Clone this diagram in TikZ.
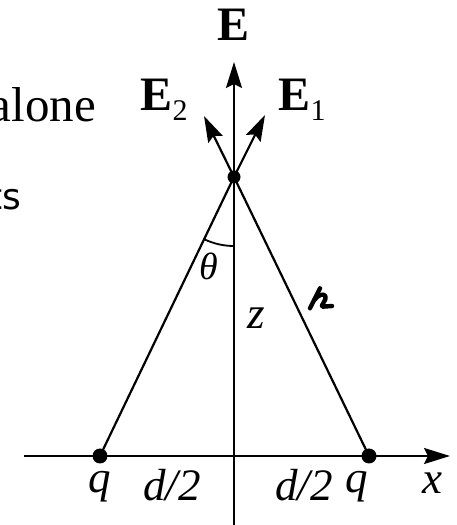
\documentclass[tikz,border=0pt]{standalone}
\usepackage{fontspec}
\setmainfont{Liberation Serif}
\newfontfamily\sansf{DejaVu Sans}
\usetikzlibrary{arrows.meta}
\begin{document}
\begin{tikzpicture}[x=1pt,y=1pt,line width=2.2pt,
  tip/.style={-{Stealth[length=26pt,width=16pt,inset=4pt]}},
  lab/.style={font=\fontsize{45}{45}\selectfont\itshape,inner sep=0pt},
  vlab/.style={font=\fontsize{48}{48}\selectfont\bfseries,inner sep=0pt},
  dot/.style={circle,fill,inner sep=0pt,minimum size=13pt},
  scr/.style={line width=4.4pt,line cap=round,line join=round}]
\useasboundingbox (0,0) rectangle (457,525);
\clip (0,0) rectangle (457,525);
% geometry
\coordinate (Ztop) at (234,463);
\coordinate (Zbot) at (234,-2);
\coordinate (Xl) at (24,69);
\coordinate (Xr) at (450,69);
\node[dot] (P) at (234,348) {};
\node[dot,minimum size=15pt] (Q1) at (100,69) {};
\node[dot,minimum size=15pt] (Q2) at (369,69) {};
\coordinate (T1) at (265,410);
\coordinate (T2) at (204,409);
% axes
\draw[tip] (Zbot) -- (Ztop);
\draw[tip] (Xl) -- (Xr);
% lines to charges
\draw (Q1.center) -- (P.center) -- (Q2.center);
% field vectors
\draw[tip] (P.center) -- (T1);
\draw[tip] (P.center) -- (T2);
% angle arc
\draw[line width=1.8pt] (P.center) ++(-115.7:69) arc[start angle=-115.7,end angle=-90,radius=69];
% labels
\node[vlab] (E) at (234,500) {E};
\node[vlab] (E2) at (164,425) {E\raisebox{-0.22em}{\fontsize{30}{30}\selectfont\mdseries 2}};
\node[vlab] (E1) at (302,425) {E\raisebox{-0.22em}{\fontsize{30}{30}\selectfont\mdseries 1}};
\node[lab,font=\fontsize{38}{38}\selectfont\itshape] (th) at (209,259) {θ};
\node[lab] (z) at (256,207) {z};
\node[lab] (q1) at (100,38) {q};
\node[lab] (q2) at (357,38) {q};
\node[lab] (d1) at (172,40) {d/2};
\node[lab] (d2) at (304,40) {d/2};
\node[lab] (xl) at (432,42) {x};
% script r
\draw[scr] (320,236.7) -- (310,216.7);
\draw[scr] (314.3,225) .. controls (318,230) and (323,232) .. (325.5,229) .. controls (327,225) and (320,219) .. (322.3,218.3) -- (332,219);
% cut-off text on the left
\node[anchor=base east,inner sep=0pt,font=\fontsize{49}{49}\selectfont] (alone) at (97,403) {alone};
\node[anchor=base east,inner sep=0pt,font=\sansf\fontsize{36}{36}\selectfont] (ts) at (22,315) {ts};
\end{tikzpicture}
\end{document}
